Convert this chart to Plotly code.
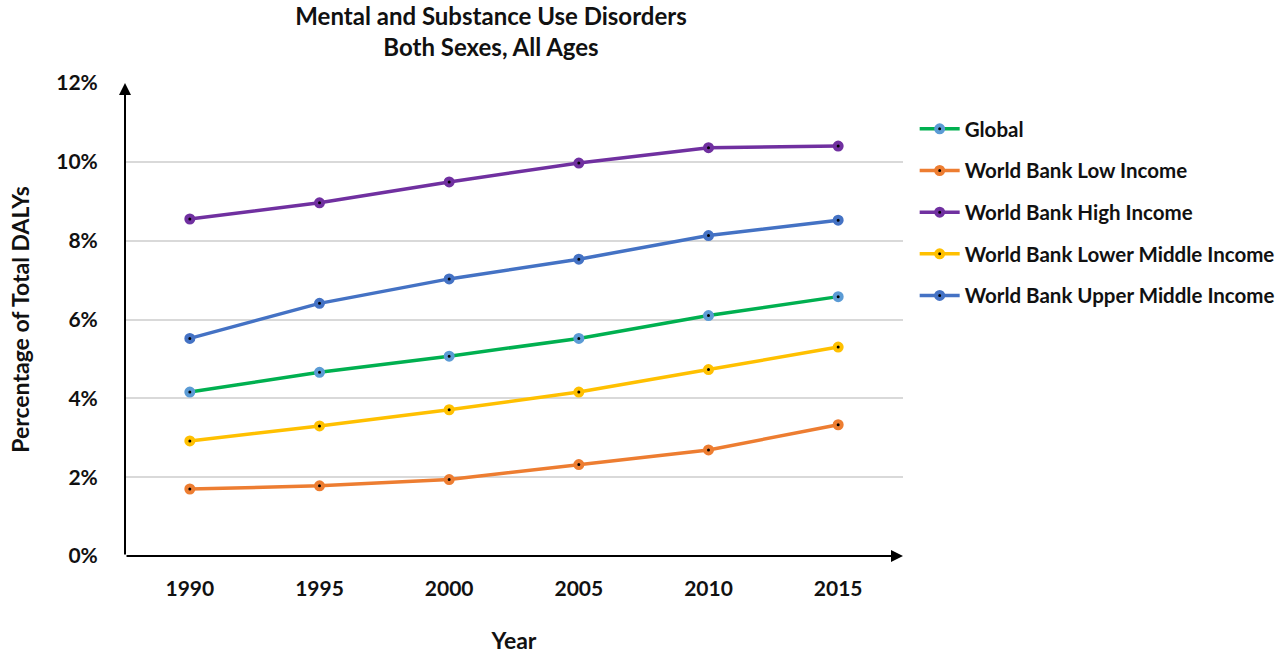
import plotly.graph_objects as go

years = ["1990", "1995", "2000", "2005", "2010", "2015"]

global_share = [4.16, 4.66, 5.07, 5.52, 6.10, 6.58]
low_income = [1.70, 1.78, 1.94, 2.32, 2.69, 3.33]
high_income = [8.55, 8.96, 9.49, 9.97, 10.36, 10.40]
lower_middle = [2.92, 3.30, 3.71, 4.16, 4.73, 5.30]
upper_middle = [5.52, 6.41, 7.03, 7.53, 8.13, 8.52]

series = [
    ("Global", global_share, "#00B050", "#5B9BD5"),
    ("World Bank Low Income", low_income, "#ED7D31", "#ED7D31"),
    ("World Bank High Income", high_income, "#7030A0", "#7030A0"),
    ("World Bank Lower Middle Income", lower_middle, "#FFC000", "#FFC000"),
    ("World Bank Upper Middle Income", upper_middle, "#4472C4", "#4472C4"),
]

FONT = "Lato"
TXT = "#111111"


def bold(size):
    return dict(family=FONT, size=size, color=TXT, weight=700)


fig = go.Figure()
for i, (name, vals, line_c, mark_c) in enumerate(series):
    # black fill + thick coloured ring gives a marker with a dark centre dot
    fig.add_trace(go.Scatter(
        x=years, y=vals, name=name, mode="lines+markers",
        line=dict(color=line_c, width=3.5),
        marker=dict(symbol="circle", size=7, color="black",
                    line=dict(color=mark_c, width=4)),
        legendgroup=f"g{i}",
    ))

# axis lines with arrowheads
fig.add_annotation(x=-0.5, y=12, ax=-0.5, ay=0, xref="x", yref="y",
                   axref="x", ayref="y", showarrow=True, arrowhead=2,
                   arrowsize=1.2, arrowwidth=2, arrowcolor="black", text="")
fig.add_annotation(x=5.5, y=0, ax=-0.5, ay=0, xref="x", yref="y",
                   axref="x", ayref="y", showarrow=True, arrowhead=2,
                   arrowsize=1.2, arrowwidth=2, arrowcolor="black", text="")

fig.update_layout(
    width=1288, height=654,
    margin=dict(l=125, r=385, t=83, b=98, autoexpand=False),
    paper_bgcolor="white", plot_bgcolor="white",
    font=bold(20),
    title=dict(text="Mental and Substance Use Disorders<br>Both Sexes, All Ages",
               x=491 / 1288, xanchor="center",
               y=1 - 25 / 654, yanchor="middle",
               font=bold(24)),
    xaxis=dict(type="category", range=[-0.5, 5.5], showgrid=False,
               showline=False, zeroline=False, automargin=False,
               ticks="outside", ticklen=14, tickcolor="rgba(0,0,0,0)",
               tickfont=bold(21),
               title=dict(text="Year", standoff=37, font=bold(23))),
    yaxis=dict(range=[0, 12], dtick=2, ticksuffix="%", showgrid=True,
               gridcolor="#D9D9D9", gridwidth=1.5, showline=False, zeroline=False,
               automargin=False,
               ticks="outside", ticklen=22, tickcolor="rgba(0,0,0,0)",
               tickfont=bold(21),
               title=dict(text="Percentage of Total DALYs", standoff=20,
                          font=bold(23))),
    legend=dict(x=1.015, y=0.945, xanchor="left", yanchor="top",
                tracegroupgap=12, itemwidth=40,
                font=bold(20.5)),
    showlegend=True,
)

fig.write_html("out.html")
